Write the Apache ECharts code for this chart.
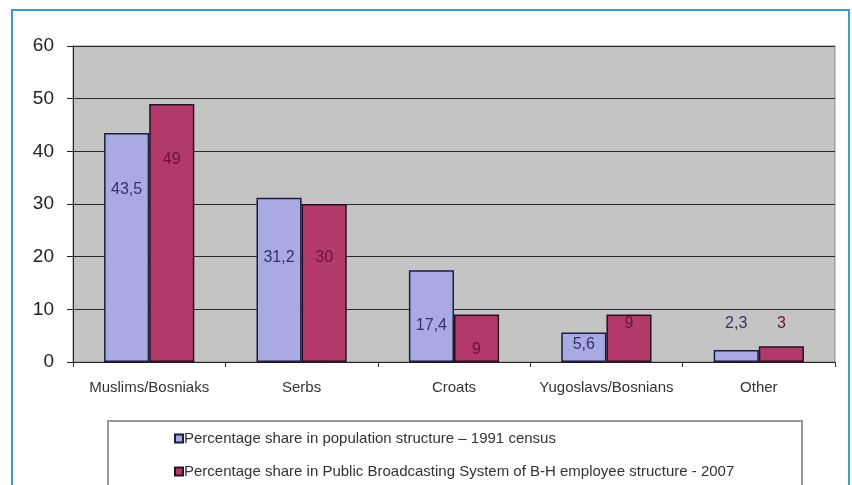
<!DOCTYPE html>
<html>
<head>
<meta charset="utf-8">
<script src="https://cdn.jsdelivr.net/npm/echarts@6/dist/echarts.min.js"></script>
<style>
  html, body { margin: 0; padding: 0; background: #fff; }
  #chart { width: 852px; height: 485px; }
</style>
</head>
<body>
<div id="chart"></div>
<script>
const categories = ['Muslims/Bosniaks', 'Serbs', 'Croats', 'Yugoslavs/Bosnians', 'Other'];
const census1991 = [43.5, 31.2, 17.4, 5.6, 2.3];
const broadcasting2007 = [49, 30, 9, 9, 3];
const seriesNames = [
  'Percentage share in population structure \u2013 1991 census',
  'Percentage share in Public Broadcasting System of B-H employee structure - 2007'
];

// label placement below bar top (px), as placed in the original
const blueLabelDy = [57, 60, 55, 12, -26];
const redLabelDy = [56, 54, 35, 9, -23];

const fmt = (v) => String(v).replace('.', ',');
const font = 'Liberation Sans, Arial, sans-serif';

const chart = echarts.init(document.getElementById('chart'));

const makeData = (values, dys) =>
  values.map((v, i) => ({
    value: v,
    label: { position: ['50%', dys[i]] }
  }));

const legendBase = {
  left: 174,
  itemWidth: 8,
  itemHeight: 8,
  itemGap: 0,
  icon: 'rect',
  padding: 0,
  textStyle: { fontFamily: font, fontSize: 15, color: '#333', padding: [0, 0, 0, -4] },
  z: 5
};

const option = {
  backgroundColor: '#ffffff',
  animation: false,
  graphic: [
    {
      type: 'rect',
      shape: { x: 12, y: 10, width: 837, height: 500 },
      style: { fill: 'none', stroke: '#3a9ec0', lineWidth: 2 },
      z: -1
    },
    {
      type: 'rect',
      shape: { x: 108, y: 421, width: 694, height: 100 },
      style: { fill: '#ffffff', stroke: '#9a9a9a', lineWidth: 2 },
      z: 0
    }
  ],
  grid: {
    left: 73,
    right: 17,
    top: 46,
    bottom: 123,
    show: true,
    backgroundColor: '#c4c4c4',
    borderColor: '#8a8a8a',
    borderWidth: 1
  },
  legend: [
    Object.assign({}, legendBase, { top: 431, data: [seriesNames[0]] }),
    Object.assign({}, legendBase, { top: 464, data: [seriesNames[1]] })
  ],
  xAxis: {
    type: 'category',
    data: categories,
    axisLine: { lineStyle: { color: '#222', width: 1 } },
    axisTick: { show: true, interval: 0, length: 5, lineStyle: { color: '#333' } },
    axisLabel: {
      interval: 0,
      margin: 18,
      fontFamily: font,
      fontSize: 15,
      color: '#333'
    }
  },
  yAxis: {
    type: 'value',
    min: 0,
    max: 60,
    interval: 10,
    axisLine: { show: true, lineStyle: { color: '#222', width: 1 } },
    axisTick: { show: true, length: 6, lineStyle: { color: '#222' } },
    axisLabel: {
      margin: 19,
      fontFamily: font,
      fontSize: 19,
      color: '#222'
    },
    splitLine: { show: true, lineStyle: { color: '#2a2a2a', width: 1 } }
  },
  series: [
    {
      name: seriesNames[0],
      type: 'bar',
      barWidth: '29.6%',
      barGap: '0%',
      data: makeData(census1991, blueLabelDy),
      itemStyle: { color: '#a9a9e4', borderColor: '#1c1c3c', borderWidth: 1.5 },
      label: {
        show: true,
        align: 'center',
        verticalAlign: 'middle',
        fontFamily: font,
        fontSize: 16,
        color: '#33336a',
        formatter: (p) => fmt(p.value)
      }
    },
    {
      name: seriesNames[1],
      type: 'bar',
      barWidth: '29.6%',
      barGap: '0%',
      data: makeData(broadcasting2007, redLabelDy),
      itemStyle: { color: '#b3396b', borderColor: '#2a1020', borderWidth: 1.5 },
      label: {
        show: true,
        align: 'center',
        verticalAlign: 'middle',
        fontFamily: font,
        fontSize: 16,
        color: '#6a1434',
        formatter: (p) => fmt(p.value)
      }
    }
  ]
};

chart.setOption(option);
</script>
</body>
</html>
